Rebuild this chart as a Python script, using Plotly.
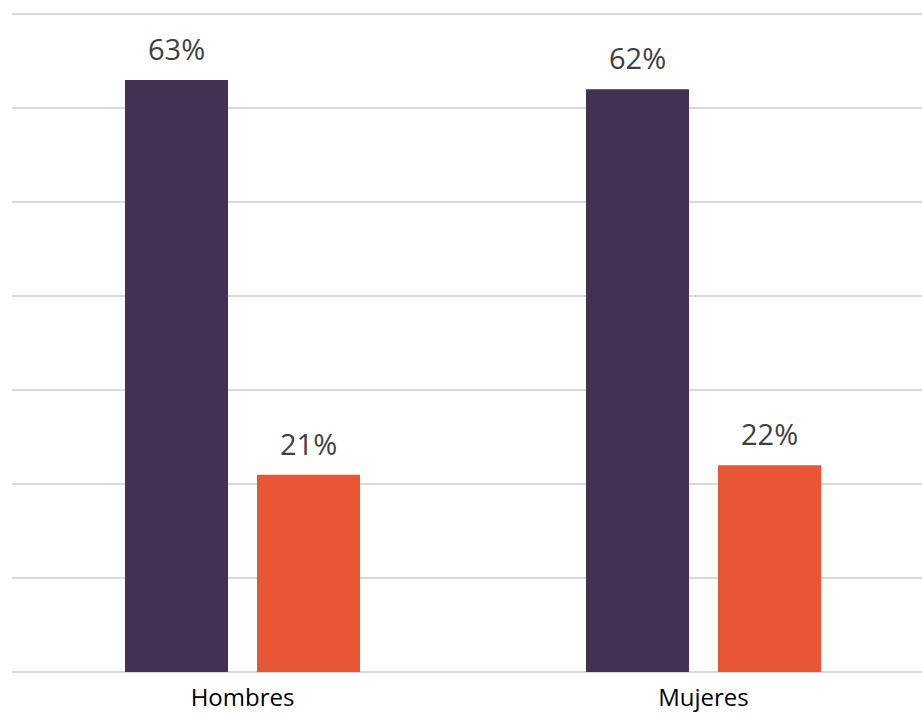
import plotly.graph_objects as go

categories = ["Hombres", "Mujeres"]
serie_1 = [63, 62]
serie_2 = [21, 22]
y_ticks = [0, 10, 20, 30, 40, 50, 60, 70]

colors = ["#413152", "#E95635"]
FONT = "Open Sans"

fig = go.Figure()
series = [("Serie 1", serie_1, colors[0], -66), ("Serie 2", serie_2, colors[1], 66)]
for name, vals, col, shift in series:
    fig.add_trace(go.Bar(
        x=categories, y=vals, name=name, marker=dict(color=col, line=dict(width=0)),
        hoverinfo="skip",
    ))
    for c, v in zip(categories, vals):
        fig.add_annotation(
            x=c, y=v, xref="x", yref="y", text=f"{v}%", showarrow=False,
            xshift=shift, yshift=10, yanchor="bottom",
            font=dict(family=FONT, size=29, color="#404040"),
        )

fig.update_layout(
    width=922, height=714,
    margin=dict(l=12, r=0, t=0, b=42),
    paper_bgcolor="white", plot_bgcolor="white",
    barmode="group", bargap=0.4273, bargroupgap=0.2197,
    showlegend=False,
    font=dict(family=FONT),
)
fig.update_xaxes(
    type="category", range=[-0.5, 1.5 - 12 / 461], automargin=False,
    showgrid=False, showline=False, ticks="", ticklabelstandoff=9,
    tickfont=dict(family=FONT, size=24, color="#000000"),
)
fig.update_yaxes(
    range=[0, 71.5], tickvals=y_ticks, showticklabels=False, automargin=False,
    showgrid=True, gridcolor="#D9D9D9", gridwidth=2,
    zeroline=True, zerolinecolor="#D9D9D9", zerolinewidth=2,
    showline=False,
)

fig.write_html(
    "out.html",
    config={"displayModeBar": False},
    post_script="document.body.style.margin='0';document.body.style.overflow='hidden';",
)
